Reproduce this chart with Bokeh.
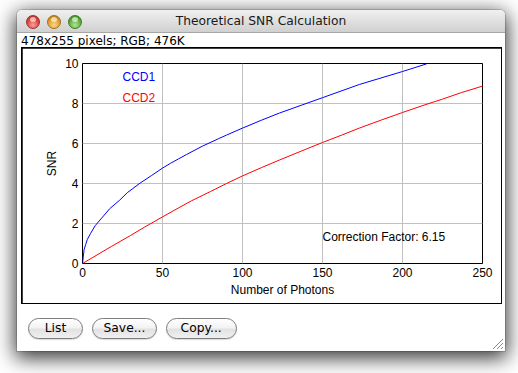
from bokeh.plotting import figure
from bokeh.models import Range1d, Label, Div
from bokeh.layouts import column
from bokeh.embed import file_html
from bokeh.resources import INLINE

# ---------------- data ----------------
photons_ccd1 = [0, 1, 2, 3, 5, 8, 12, 17, 23, 28, 36, 43, 50, 55, 60, 65, 75, 85, 90, 100,
                112, 123, 137, 150, 173, 200, 215]
snr_ccd1 = [0, 0.7, 0.95, 1.2, 1.5, 1.9, 2.27, 2.74, 3.15, 3.54, 4.02, 4.39, 4.77, 5.01, 5.23,
            5.45, 5.87, 6.24, 6.42, 6.77, 7.17, 7.52, 7.92, 8.29, 8.95, 9.6, 9.98]
photons_ccd2 = [0, 18, 30, 39, 50, 60, 68, 80, 90, 100, 112, 123, 137, 150, 162, 173, 187,
                200, 212, 225, 237, 250]
snr_ccd2 = [0, 0.85, 1.4, 1.83, 2.33, 2.78, 3.13, 3.6, 4.0, 4.38, 4.8, 5.17, 5.63, 6.05, 6.42,
            6.77, 7.18, 7.55, 7.88, 8.22, 8.55, 8.87]
x_ticks = [0, 50, 100, 150, 200, 250]
y_ticks = [0, 2, 4, 6, 8, 10]
series_names = ["CCD1", "CCD2"]
series_colors = ["#0000ff", "#ff0000"]
legend_pos = [(25, 9.34), (25, 8.29)]
correction_text = "Correction Factor: 6.15"
correction_pos = (150, 1.33)
x_title = "Number of Photons"
y_title = "SNR"
window_title = "Theoretical SNR Calculation"
image_info = "478x255 pixels; RGB; 476K"
button_labels = ["List", "Save...", "Copy..."]

PLOT_FONT = "Liberation Sans"
UI_FONT = "DejaVu Sans"

# ---------------- the plot (ImageJ style) ----------------
p = figure(width=479, height=255, x_range=Range1d(0, 250), y_range=Range1d(0, 10),
           output_backend="svg", toolbar_location=None,
           min_border_left=60, min_border_right=19, min_border_top=15, min_border_bottom=40,
           margin=(1, 1, 1, 1))
p.background_fill_color = "#ffffff"
p.border_fill_color = "#ffffff"
p.outline_line_color = "#000000"
p.outline_line_width = 1
p.outline_line_alpha = 1

p.xaxis.ticker = x_ticks
p.yaxis.ticker = y_ticks
p.xgrid.ticker = x_ticks
p.ygrid.ticker = y_ticks
for g in (p.xgrid, p.ygrid):
    g.grid_line_color = "#c0c0c0"
    g.grid_line_width = 1
for ax in (p.xaxis, p.yaxis):
    ax.major_tick_in = 0
    ax.major_tick_out = 0
    ax.minor_tick_line_color = None
    ax.axis_line_color = None
    ax.major_label_text_font = PLOT_FONT
    ax.major_label_text_font_size = "12px"
    ax.major_label_text_color = "#000000"
    ax.major_label_standoff = 4
    ax.axis_label_text_font = PLOT_FONT
    ax.axis_label_text_font_size = "12px"
    ax.axis_label_text_font_style = "normal"
    ax.axis_label_text_color = "#000000"
    ax.axis_label_standoff = 3
p.xaxis.axis_label = x_title
p.yaxis.axis_label = y_title

p.line(photons_ccd1, snr_ccd1, line_color=series_colors[0], line_width=1)
p.line(photons_ccd2, snr_ccd2, line_color=series_colors[1], line_width=1)

for name, col, (lx, ly) in zip(series_names, series_colors, legend_pos):
    p.add_layout(Label(x=lx, y=ly, text=name, text_color=col, text_font=PLOT_FONT,
                       text_font_size="12px", text_baseline="middle", text_align="left"))
p.add_layout(Label(x=correction_pos[0], y=correction_pos[1], text=correction_text,
                   text_color="#000000", text_font=PLOT_FONT, text_font_size="12px",
                   text_baseline="middle", text_align="left"))

# black 1px image border: a black box with the plot inset by 1px
image_box = column(p, margin=(0, 0, 0, 4), spacing=0, styles={"background-color": "#000000"})

# ---------------- window chrome ----------------
W = 488


def light(left, base, dark, hi):
    return (f"<div style=\"position:absolute;left:{left}px;top:5px;width:14px;height:14px;"
            f"box-sizing:border-box;border-radius:50%;border:1px solid {dark};"
            f"background:radial-gradient(circle at 50% 75%, {hi} 0%, {base} 55%, {dark} 100%);\">"
            f"<div style=\"position:absolute;left:3px;top:1px;width:6px;height:5px;border-radius:50%;"
            f"background:rgba(255,255,255,0.6);\"></div></div>")


title_html = (
    f"<div style=\"position:relative;width:{W}px;height:23px;box-sizing:border-box;"
    f"border-radius:5px 5px 0 0;background:linear-gradient(#f0f0f0,#d0d0d0);"
    f"border-bottom:1px solid #a6a6a6;\">"
    + light(9, "#e0443e", "#9a2f2b", "#f7a29a")
    + light(30, "#e3a12a", "#a06f16", "#f8d58a")
    + light(51, "#62ae3c", "#367c22", "#b4e29a")
    + f"<div style=\"position:absolute;left:0;top:0;width:{W}px;height:23px;line-height:23px;"
    f"text-align:center;font-family:{UI_FONT};font-size:12.3px;color:#1a1a1a;white-space:nowrap;\">"
    f"{window_title}</div></div>")
title_div = Div(text=title_html, width=W, height=23, margin=0)

info_div = Div(text=(f"<div style=\"width:{W}px;height:14px;padding-left:4px;box-sizing:border-box;"
                     f"font-family:{UI_FONT};font-size:12px;line-height:10px;color:#000;"
                     f"white-space:nowrap;\">{image_info}</div>"),
               width=W, height=14, margin=0)

btn_geom = [(10.7, 55.6), (74.7, 65.6), (148.7, 71.0)]
btn_html = ""
for (bl, bw), txt in zip(btn_geom, button_labels):
    btn_html += (f"<div style=\"position:absolute;left:{bl}px;top:14px;width:{bw}px;height:21px;"
                 f"box-sizing:border-box;border-radius:11px;border:1px solid #7d7d7d;"
                 f"background:linear-gradient(#ffffff 0%,#f3f3f3 45%,#e2e2e2 55%,#f0f0f0 100%);"
                 f"box-shadow:0 1px 1px rgba(0,0,0,0.15);display:flex;align-items:center;"
                 f"justify-content:center;font-family:{UI_FONT};font-size:12.3px;"
                 f"color:#000;white-space:nowrap;\">{txt}</div>")
grip = ("<svg style=\"position:absolute;right:1px;bottom:1px;\" width=\"14\" height=\"14\">"
        "<line x1=\"13\" y1=\"3\" x2=\"3\" y2=\"13\" stroke=\"#8a8a8a\" stroke-width=\"1\"/>"
        "<line x1=\"13\" y1=\"7\" x2=\"7\" y2=\"13\" stroke=\"#8a8a8a\" stroke-width=\"1\"/>"
        "<line x1=\"13\" y1=\"11\" x2=\"11\" y2=\"13\" stroke=\"#8a8a8a\" stroke-width=\"1\"/></svg>")
buttons_div = Div(text=(f"<div style=\"position:relative;width:{W}px;height:47px;\">"
                        f"{btn_html}{grip}</div>"),
                  width=W, height=47, margin=0)

window = column(title_div, info_div, image_box, buttons_div, spacing=0,
                margin=(10, 0, 0, 17),
                styles={"background-color": "#ffffff", "border-radius": "5px 5px 0 0",
                        "box-shadow": "0 5px 20px 2px rgba(0,0,0,0.8), 0 0 0 1px rgba(0,0,0,0.15)"})

open("out.html", "w").write(file_html(window, INLINE))
